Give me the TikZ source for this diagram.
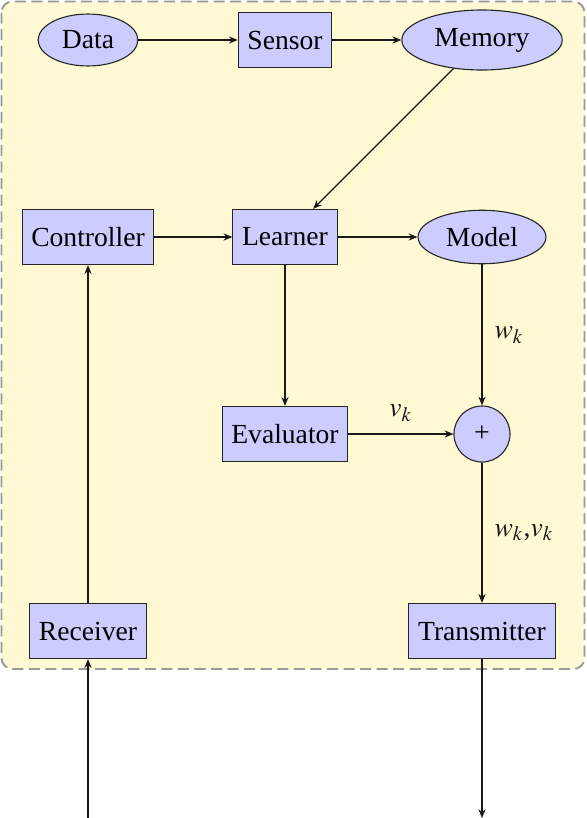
\documentclass[tikz,border=0pt]{standalone}
\usepackage{mathptmx}
\usepackage[no-math]{fontspec}
\setmainfont{Liberation Serif}
\usetikzlibrary{arrows.meta,shapes.geometric}
\definecolor{bgyellow}{RGB}{255,250,212}
\definecolor{nodeblue}{RGB}{204,204,255}
\begin{document}
\begin{tikzpicture}[x=0.3623pt,y=-0.3623pt,
  blk/.style={draw=black!85, fill=nodeblue, minimum height=20pt, inner sep=3.33pt},
  ell/.style={ellipse, draw=black!85, fill=nodeblue},
  sumnode/.style={circle, draw=black!85, fill=nodeblue, minimum size=20.3pt, inner sep=0pt},
  arr/.style={-{Stealth[length=3.2pt,width=2.6pt]}, black!90},
  container/.style={draw=black!40, line width=0.7pt, dash pattern=on 4pt off 2pt, fill=bgyellow, rounded corners=4pt}]
\useasboundingbox (0,0) rectangle (586,818);
\draw[container] (1.5,1.5) rectangle (584.5,669);
% nodes
\node[ell] (data) at (88,40) {Data};
\node[blk] (sensor) at (285,40) {Sensor};
\node[ell] (memory) at (482,40) {Memory};
\node[blk] (controller) at (88,237) {Controller};
\node[blk] (learner) at (285,237) {Learner};
\node[ell] (model) at (482,237) {Model};
\node[blk] (evaluator) at (285,434) {Evaluator};
\node[sumnode] (sum) at (482,434) {+};
\node[blk] (receiver) at (88,631) {Receiver};
\node[blk] (transmitter) at (482,631) {Transmitter};
\coordinate (in) at (88,818);
\coordinate (out) at (482,818);
% connectors
\draw[arr] (data) -- (sensor);
\draw[arr] (sensor) -- (memory);
\draw[arr] (memory) -- (learner);
\draw[arr] (controller) -- (learner);
\draw[arr] (learner) -- (model);
\draw[arr] (learner) -- (evaluator);
\draw[arr] (model) -- node[right, xshift=1pt] {$w_k$} (sum);
\draw[arr] (evaluator) -- node[above, yshift=1pt] {$v_k$} (sum);
\draw[arr] (sum) -- node[right, xshift=1pt] {$w_k$,$v_k$} (transmitter);
\draw[arr] (receiver) -- (controller);
\draw[arr] (in) -- (receiver);
\draw[arr] (transmitter) -- (out);
\end{tikzpicture}
\end{document}
